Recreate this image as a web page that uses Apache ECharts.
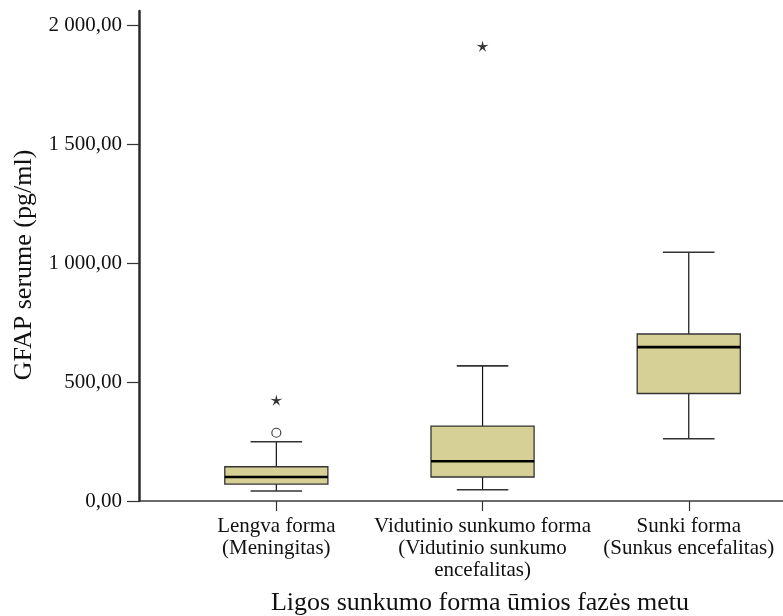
<!DOCTYPE html>
<html>
<head>
<meta charset="utf-8">
<script src="https://cdn.jsdelivr.net/npm/echarts@6/dist/echarts.min.js"></script>
<style>html,body{margin:0;padding:0;background:#fff}#c{width:783px;height:616px}</style>
</head>
<body>
<div id="c"></div>
<script>
// ---- data ----
const categories = [
  'Lengva forma\n(Meningitas)',
  'Vidutinio sunkumo forma\n(Vidutinio sunkumo\nencefalitas)',
  'Sunki forma\n(Sunkus encefalitas)'
];
// box statistics per category
const whiskLow  = [42, 47, 262];
const q1Vals    = [71, 101, 452];
const medians   = [101, 167, 647];
const q3Vals    = [144, 315, 702];
const whiskHigh = [249, 568, 1046];
// outliers: [category index, value]
const circleOutliers = [[0, 287]];
const starOutliers = [[0, 424], [1, 1912]];
const yTicks = [0, 500, 1000, 1500, 2000];
const catIdx = [0, 1, 2];

const FONT = 'Liberation Serif';
const fmt = v => {
  const s = Math.round(v).toString().replace(/\B(?=(\d{3})+(?!\d))/g, ' ');
  return s + ',00';
};

const boxData = catIdx.map(i => [i, whiskLow[i], q1Vals[i], medians[i], q3Vals[i], whiskHigh[i]]);

const starPath = 'path://M10 0 L11.76 7.57 L19.51 6.91 L12.85 10.93 L15.88 18.09 L10 13 L4.12 18.09 L7.15 10.93 L0.49 6.91 L8.24 7.57 Z';

const chart = echarts.init(document.getElementById('c'), null, {renderer: 'canvas'});
chart.setOption({
  animation: false,
  backgroundColor: '#ffffff',
  grid: {left: 139, right: 0, top: 11, bottom: 115, containLabel: false, outerBoundsMode: 'none'},
  xAxis: {
    type: 'value',
    min: -0.666,
    max: 2.457,
    splitLine: {show: false},
    axisLine: {show: true, onZero: false, lineStyle: {color: '#3a3a3a', width: 1.5}},
    axisTick: {show: true, customValues: catIdx, length: 10, inside: false, lineStyle: {color: '#333', width: 1.2}},
    axisLabel: {
      customValues: catIdx,
      formatter: v => categories[Math.round(v)] || '',
      margin: 14,
      fontFamily: FONT, fontSize: 21, lineHeight: 22, color: '#111', align: 'center'
    },
    name: 'Ligos sunkumo forma ūmios fazės metu',
    nameLocation: 'middle',
    nameGap: 89,
    nameTextStyle: {fontFamily: FONT, fontSize: 26, color: '#111', padding: [0, 0, 0, 38]}
  },
  yAxis: {
    type: 'value',
    min: 0,
    max: 2060,
    splitLine: {show: false},
    axisLine: {show: true, onZero: false, lineStyle: {color: '#2a2a2a', width: 2.5}},
    axisTick: {show: true, customValues: yTicks, length: 12, lineStyle: {color: '#333', width: 1.2}},
    axisLabel: {customValues: yTicks, formatter: v => fmt(v), margin: 17, fontFamily: FONT, fontSize: 21, color: '#111'},
    name: 'GFAP serume (pg/ml)',
    nameLocation: 'middle',
    nameGap: 100,
    nameTextStyle: {fontFamily: FONT, fontSize: 26, color: '#111', padding: [0, 18, 0, 0]}
  },
  series: [
    {
      type: 'custom',
      data: boxData,
      renderItem: function (params, api) {
        const x = api.value(0);
        const pMin = api.coord([x, api.value(1)]);
        const pQ1 = api.coord([x, api.value(2)]);
        const pMed = api.coord([x, api.value(3)]);
        const pQ3 = api.coord([x, api.value(4)]);
        const pMax = api.coord([x, api.value(5)]);
        const boxW = api.size([0.5, 0])[0];
        const capW = api.size([0.25, 0])[0];
        const cx = pMed[0];
        const lineBlack = {stroke: '#111', lineWidth: 1.2};
        const capStyle = {stroke: '#333', lineWidth: 1.6};
        return {
          type: 'group',
          children: [
            {type: 'line', shape: {x1: cx, y1: pMax[1], x2: cx, y2: pQ3[1]}, style: lineBlack},
            {type: 'line', shape: {x1: cx, y1: pQ1[1], x2: cx, y2: pMin[1]}, style: lineBlack},
            {type: 'line', shape: {x1: cx - capW / 2, y1: pMax[1], x2: cx + capW / 2, y2: pMax[1]}, style: capStyle},
            {type: 'line', shape: {x1: cx - capW / 2, y1: pMin[1], x2: cx + capW / 2, y2: pMin[1]}, style: capStyle},
            {type: 'rect', shape: {x: cx - boxW / 2, y: pQ3[1], width: boxW, height: pQ1[1] - pQ3[1]},
              style: {fill: '#d6d096', stroke: '#333', lineWidth: 1.3}},
            {type: 'line', shape: {x1: cx - boxW / 2, y1: pMed[1], x2: cx + boxW / 2, y2: pMed[1]},
              style: {stroke: '#000', lineWidth: 2.6}}
          ]
        };
      }
    },
    {
      type: 'scatter',
      data: circleOutliers,
      symbol: 'circle',
      symbolSize: 9,
      itemStyle: {color: '#ffffff', borderColor: '#111', borderWidth: 1.2}
    },
    {
      type: 'scatter',
      data: starOutliers,
      symbol: starPath,
      symbolKeepAspect: true,
      symbolSize: 12,
      itemStyle: {color: '#000'}
    }
  ]
});
</script>
</body>
</html>
